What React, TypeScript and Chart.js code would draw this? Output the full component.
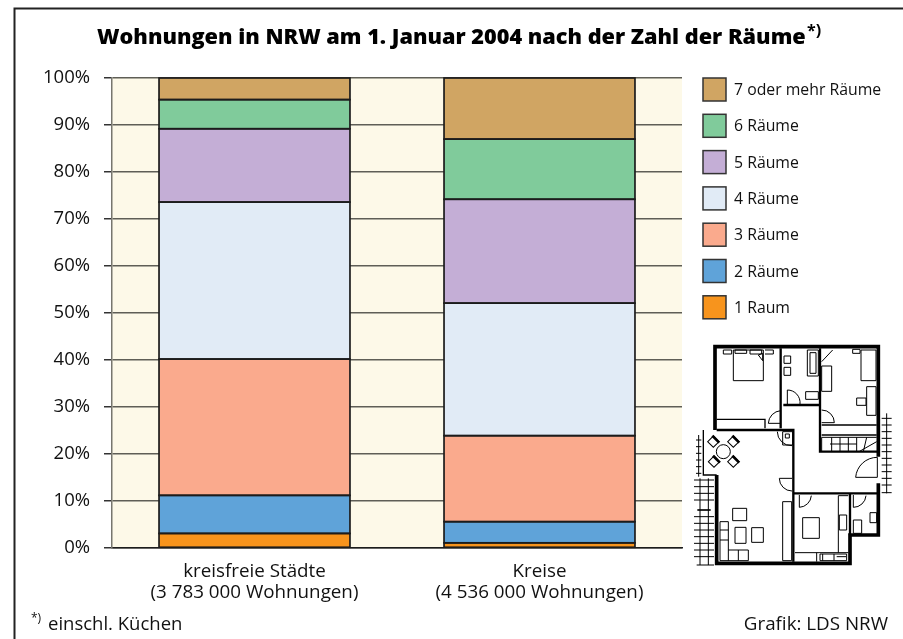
import React, { useEffect, useRef } from "react";
import { Chart, registerables } from "chart.js";

Chart.register(...registerables);

const categories = [["kreisfreie Städte", "(3 783 000 Wohnungen)"], ["Kreise", "(4 536 000 Wohnungen)"]];
const seriesNames = ["1 Raum", "2 Räume", "3 Räume", "4 Räume", "5 Räume", "6 Räume", "7 oder mehr Räume"];
const seriesColors = ["#f7941d", "#5fa3d9", "#faaa8d", "#e1ebf6", "#c4aed6", "#80cb9b", "#d0a563"];
const room1 = [3.1, 1.1];
const room2 = [8.1, 4.5];
const room3 = [29.0, 18.3];
const room4 = [33.4, 28.2];
const room5 = [15.6, 22.1];
const room6 = [6.2, 12.8];
const room7 = [4.6, 13.0];
const seriesValues = [room1, room2, room3, room4, room5, room6, room7];
const titleText = "Wohnungen in NRW am 1. Januar 2004 nach der Zahl der Räume";
const footnoteText = "einschl. Küchen";
const sourceText = "Grafik: LDS NRW";

const FONT = '"Open Sans"';

function drawFloorPlan(c: CanvasRenderingContext2D) {
  c.save();
  c.translate(690, 330);
  c.scale(1 / 3, 1 / 3);
  c.strokeStyle = "#000";
  c.fillStyle = "#fff";
  c.lineCap = "butt";
  const path = (d: string, w: number) => {
    c.lineWidth = w;
    c.stroke(new Path2D(d));
  };
  // Pflaster
  let hatch = "M590 250V490M575 265H605M575 285H605M575 305H605M575 325H605M575 345H605M575 365H605M575 385H605M575 405H605M575 425H605M575 445H605M575 465H605M575 488H605";
  hatch += "M26 315V440M18 330H34M18 350H34M18 370H34M18 390H34M18 410H34M18 430H34";
  hatch += "M30 445V705M55 445V705M12 450H72M12 470H72M12 490H72M12 510H72M12 560H72M12 580H72M12 600H72M12 620H72M12 640H72M12 660H72M12 680H72M20 705H72";
  path(hatch, 3);
  path("M22 540H62", 5);
  // Außenwände
  path("M75 300V50H565V380M565 460V615H480V700H80V435", 11);
  // Innenwände
  path("M272 55V295M390 55V365H565M280 225H390M80 300H310V490H565M310 490V695M480 490V615", 7);
  path("M395 285H560M395 315H560M80 268H225V295M40 300V435H80", 4);
  // Türen
  path("M235 280A40 40 0 0 1 272 242M235 280H272M292 222V180A38 38 0 0 1 330 222M395 240A38 38 0 0 1 433 278H395", 3);
  path("M262 305A42 42 0 0 0 306 347M268 445A38 38 0 0 0 306 483M268 445H306M497 442A65 65 0 0 1 562 382V442H497", 3);
  path("M328 495V532A38 38 0 0 0 364 497M490 495V532A38 38 0 0 0 528 497", 3);
  // Küche, Möbel
  path("M278 515H305V692H278ZM315 668H475M380 668V695M445 497V668M475 497H445", 3);
  path("M338 563H388V625H338ZM390 672H470V692H390ZM398 672V692M432 672V692M440 680H468", 3);
  path("M130 60H220V152H130ZM100 60H125V72H100ZM135 60H170V70H135ZM180 60H215V72H180ZM225 60H250V72H225", 3);
  path("M205 75L218 92V70Z", 3);
  path("M352 60H385V138H352ZM360 68H378V130H360Z", 3);
  path("M282 78H302V100H282ZM282 112H302V136H282ZM347 185H385V208H347Z", 3);
  path("M395 108H425V184H395ZM395 95L428 60M488 58H510V70H488ZM513 60H558V152H513ZM530 170H558V256H530ZM500 204H528V226H500Z", 3);
  path("M278 305H308V345H278ZM286 312H298V324H286Z", 3);
  path("M395 322H560M395 365V322M425 322V365M450 322V365M475 322V365M500 322V365M507 365L560 335M530 322L520 365M420 342H500", 3);
  path("M128 535H170V572H128ZM185 593H220V637H185ZM135 592H168V640H135ZM90 575H115V660H175V692H90ZM90 600H115M90 630H115M115 660V692M145 660V692", 3);
  path("M490 570H515V610H490ZM540 548H560V578H540ZM448 555H470V600H448Z", 3);
  c.beginPath();
  c.arc(100, 365, 21, 0, Math.PI * 2);
  c.lineWidth = 3;
  c.stroke();
  [[70, 335], [130, 335], [72, 395], [130, 395]].forEach(([x, y]) => {
    c.save();
    c.translate(x, y);
    c.rotate(Math.PI / 4);
    c.strokeRect(-12, -12, 24, 24);
    c.lineWidth = 5;
    c.strokeRect(-12, -12, 24, 3);
    c.restore();
  });
  c.restore();
}

const decorations = {
  id: "decorations",
  beforeDraw(chart: any) {
    const { ctx: c, chartArea: a } = chart;
    c.save();
    c.fillStyle = "#fff";
    c.fillRect(0, 0, chart.width, chart.height);
    c.fillStyle = "#fdf9e8";
    c.fillRect(a.left, a.top, a.right - a.left, a.bottom - a.top);
    c.restore();
  },
  afterDraw(chart: any) {
    const c = chart.ctx as CanvasRenderingContext2D;
    c.save();
    // Balkenumrisse
    c.strokeStyle = "#1c1c1c";
    c.lineWidth = 1.7;
    chart.data.datasets.forEach((_: any, i: number) => {
      chart.getDatasetMeta(i).data.forEach((b: any) => {
        c.strokeRect(b.x - b.width / 2, b.y, b.width, b.base - b.y);
      });
    });
    // Rahmen
    c.strokeStyle = "#222";
    c.lineWidth = 2;
    c.beginPath();
    c.moveTo(14.5, 639);
    c.lineTo(14.5, 8.5);
    c.lineTo(903, 8.5);
    c.stroke();
    // Titel
    c.fillStyle = "#000";
    c.textBaseline = "alphabetic";
    c.textAlign = "left";
    c.font = `800 21.7px ${FONT}`;
    c.fillText(titleText, 97, 44);
    c.font = `bold 16px ${FONT}`;
    c.fillText("*)", 807, 36);
    // Legende
    const ds = chart.data.datasets;
    ds.slice().reverse().forEach((d: any, i: number) => {
      const y = 78 + i * 36.3;
      c.fillStyle = d.backgroundColor;
      c.fillRect(703, y, 23, 23);
      c.strokeStyle = "#333";
      c.lineWidth = 1.5;
      c.strokeRect(703, y, 23, 23);
      c.fillStyle = "#111";
      c.font = `15.8px ${FONT}`;
      c.fillText(d.label, 734, y + 17);
    });
    // Fußzeile
    c.fillStyle = "#111";
    c.font = `12px ${FONT}`;
    c.fillText("*)", 31, 622);
    c.font = `18.5px ${FONT}`;
    c.fillText(footnoteText, 48, 630);
    c.textAlign = "right";
    c.font = `18.8px ${FONT}`;
    c.fillText(sourceText, 888, 630);
    c.restore();
    drawFloorPlan(c);
  },
};

export default function App() {
  const ref = useRef<HTMLCanvasElement>(null);
  useEffect(() => {
    const chart = new Chart(ref.current!, {
      type: "bar",
      data: {
        labels: categories as any,
        datasets: seriesNames.map((label, i) => ({
          label,
          data: seriesValues[i],
          backgroundColor: seriesColors[i],
          borderWidth: 0,
          categoryPercentage: 1,
          barPercentage: 0.67,
        })),
      },
      options: {
        responsive: false,
        animation: false,
        devicePixelRatio: 1,
        layout: { padding: { left: 0, top: 78, right: 221, bottom: 0 } },
        plugins: { legend: { display: false }, title: { display: false }, tooltip: { enabled: false } },
        scales: {
          x: {
            stacked: true,
            afterFit: (s: any) => { s.height = 91; },
            grid: { display: false, drawTicks: false },
            border: { color: "#1c1c1c", width: 1.5 },
            ticks: {
              color: "#111",
              font: { family: FONT, size: 18.8, lineHeight: 1.12 },
              maxRotation: 0,
              autoSkip: false,
              padding: 13,
            },
          },
          y: {
            stacked: true,
            min: 0,
            max: 100,
            afterFit: (s: any) => { s.width = 112; },
            grid: { color: "#5f5e56", lineWidth: 1.5, tickLength: 8, tickColor: "#333" },
            border: { color: "#77766e", width: 1.5 },
            ticks: {
              stepSize: 10,
              color: "#111",
              font: { family: FONT, size: 18.5 },
              padding: 14,
              callback: (v: any) => `${v}%`,
            },
          },
        },
      },
      plugins: [decorations],
    } as any);
    return () => chart.destroy();
  }, []);
  return (
    <div style={{ position: "absolute", left: 0, top: 0, width: 903, height: 639 }}>
      <canvas ref={ref} width={903} height={639} style={{ display: "block" }} />
    </div>
  );
}
